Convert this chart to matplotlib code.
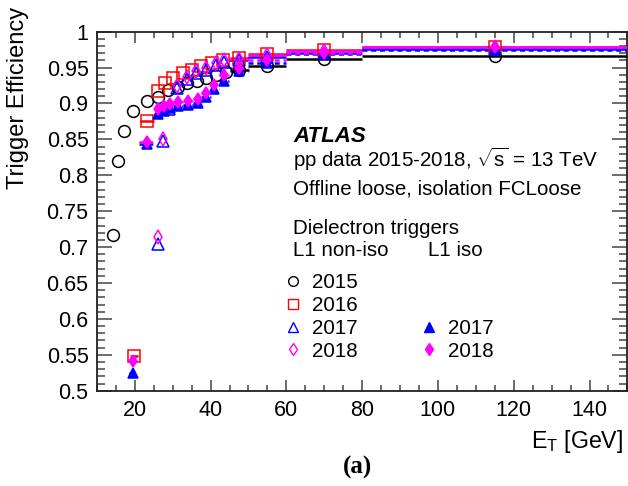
import matplotlib
matplotlib.use("Agg")
import matplotlib.pyplot as plt
from matplotlib.lines import Line2D
from matplotlib.ticker import MultipleLocator, FormatStrFormatter


# ------------------
# data
# ------------------
et_2015 = [14.3, 15.6, 17.1, 19.6, 23.1, 26.2, 28.8, 31.3, 33.9, 36.3, 38.7, 41.3, 44.0, 47.6, 55, 70, 115]
eff_2015 = [0.717, 0.820, 0.862, 0.890, 0.903, 0.909, 0.919, 0.923, 0.929, 0.932, 0.936, 0.940, 0.944, 0.947, 0.952, 0.962, 0.966]
xerr_2015 = [0, 0, 0, 0, 0, 0, 0, 0, 0, 0, 0, 0, 0, 2.5, 5, 10, 35]

et_2016 = [19.75, 23.3, 26.1, 27.9, 30.0, 32.6, 35.2, 37.6, 40.5, 43.4, 47.6, 55, 70, 115]
eff_2016 = [0.549, 0.875, 0.917, 0.929, 0.936, 0.942, 0.947, 0.952, 0.957, 0.961, 0.964, 0.969, 0.974, 0.979]
xerr_2016 = [1.0, 1.9, 0, 0, 0, 0, 0, 0, 0, 0, 2.5, 5, 10, 35]

et_nonis = [26.2, 27.4, 29.0, 31.2, 33.7, 36.2, 38.7, 41.3, 43.6, 47.4, 55, 70, 115]
xerr_nonis = [0, 0, 0, 0, 0, 0, 0, 0, 0, 2.5, 5, 10, 35]
eff_2017_nonis = [0.705, 0.848, 0.892, 0.921, 0.934, 0.942, 0.947, 0.954, 0.958, 0.960, 0.965, 0.970, 0.976]
eff_2018_nonis = [0.714, 0.850, 0.897, 0.924, 0.937, 0.945, 0.950, 0.956, 0.960, 0.962, 0.968, 0.973, 0.978]

et_iso = [19.6, 23.1, 26.1, 27.6, 29.2, 31.4, 34.0, 36.6, 38.8, 41.0, 43.5, 47.5, 55, 70, 115]
xerr_iso = [1.0, 2.0, 1.0, 1.0, 1.0, 1.25, 1.25, 1.25, 1.25, 1.25, 1.25, 2.5, 5, 10, 35]
eff_2017_iso = [0.525, 0.843, 0.886, 0.890, 0.894, 0.896, 0.898, 0.900, 0.909, 0.920, 0.932, 0.945, 0.957, 0.969, 0.975]
eff_2018_iso = [0.541, 0.847, 0.892, 0.896, 0.899, 0.902, 0.904, 0.906, 0.915, 0.926, 0.939, 0.950, 0.960, 0.971, 0.978]


plt.rcParams['font.family'] = ['Liberation Sans', 'DejaVu Sans']
plt.rcParams['mathtext.fontset'] = 'custom'
plt.rcParams['mathtext.rm'] = 'Liberation Sans'
plt.rcParams['mathtext.it'] = 'Liberation Sans:italic'
plt.rcParams['font.size'] = 14.8

fig = plt.figure(figsize=(6.28, 4.86), dpi=100)
ax = fig.add_axes([96.9 / 628, 95.3 / 486, 530.5 / 628, 359.0 / 486])


def draw(x, y, xerr, marker, color, ms, filled, dashed=False):
    face = color if filled else 'none'
    _, _, bars = ax.errorbar(x, y, xerr=xerr, fmt=marker, ms=ms, mfc=face, mec=color,
                             mew=1.1, ecolor=color, elinewidth=1.8, capsize=0, zorder=3)
    if dashed:
        for b in bars:
            b.set_linestyle((0, (2, 1.5)))


#-------------
# PLOT
#-------------
draw(et_2015, eff_2015, xerr_2015, 'o', 'black', 8.5, False)
draw(et_2016, eff_2016, xerr_2016, 's', '#ff0000', 8.5, False)
draw(et_nonis, eff_2017_nonis, xerr_nonis, '^', '#0000ff', 8, False)
draw(et_nonis, eff_2018_nonis, xerr_nonis, 'd', '#ff00ff', 7, False)
draw(et_iso, eff_2017_iso, xerr_iso, '^', '#0000ff', 7.5, True, dashed=True)
draw(et_iso, eff_2018_iso, xerr_iso, 'd', '#ff00ff', 6.5, True, dashed=True)

ax.set_xlim(10, 150)
ax.set_ylim(0.5, 1.0)
ax.xaxis.set_major_locator(MultipleLocator(20))
ax.xaxis.set_minor_locator(MultipleLocator(5))
ax.yaxis.set_major_locator(MultipleLocator(0.05))
ax.yaxis.set_minor_locator(MultipleLocator(0.01))
ax.yaxis.set_major_formatter(FormatStrFormatter('%g'))

ax.tick_params(which='both', direction='in', top=True, right=True, width=1.1, color='#444444',
               labelsize=15.5)
ax.tick_params(axis='y', which='major', length=11)
ax.tick_params(axis='y', which='minor', length=5.5)
ax.tick_params(axis='x', which='major', length=8)
ax.tick_params(axis='x', which='minor', length=4)
ax.tick_params(axis='x', pad=7)
ax.tick_params(axis='y', pad=6)
for s in ax.spines.values():
    s.set_linewidth(1.3)
    s.set_color('#222222')

fig.text(18 / 628, 1 - 7 / 486, 'Trigger Efficiency', rotation=90, ha='center', va='top', fontsize=17)
ax.set_xlabel('E$_\\mathregular{T}$ [GeV]', fontsize=16.7, ha='right', x=1.0 - 4 / 530.5, labelpad=5)

fig.text(358 / 628, 1 - 467 / 486, '(a)', fontfamily='Liberation Serif', fontweight='bold',
         fontsize=18, ha='center', va='center')

tx = (293 - 96.9) / 530.5
ax.text(tx, (390.7 - 136) / 359, 'ATLAS', transform=ax.transAxes, fontweight='bold',
        fontstyle='italic', va='center', fontsize=16)
ax.text(tx, (390.7 - 159) / 359, 'pp data 2015-2018, $\\sqrt{\\mathregular{s}}$ = 13 TeV',
        transform=ax.transAxes, va='center')
ax.text(tx, (390.7 - 189) / 359, 'Offline loose, isolation FCLoose', transform=ax.transAxes, va='center')
ax.text(tx, (390.7 - 228) / 359, 'Dielectron triggers', transform=ax.transAxes, va='center')
ax.text(tx, (390.7 - 251) / 359, 'L1 non-iso', transform=ax.transAxes, va='center')
ax.text((428 - 96.9) / 530.5, (390.7 - 251) / 359, 'L1 iso', transform=ax.transAxes, va='center')

# legend, two columns (first two rows of the iso column empty)
def mk(marker, color, ms, filled):
    return Line2D([], [], ls='none', marker=marker, ms=ms, mec=color,
                  mfc=color if filled else 'none', mew=1.0)

blank = Line2D([], [], ls='none', marker='none')
handles = [mk('o', 'black', 7, False), mk('s', '#ff0000', 7, False),
           mk('^', '#0000ff', 7, False), mk('d', '#ff00ff', 6, False),
           blank, blank, mk('^', '#0000ff', 7, True), mk('d', '#ff00ff', 6, True)]
labels = ['2015', '2016', '2017', '2018', '', '', '2017', '2018']
ax.legend(handles, labels, ncol=2, frameon=False, loc='upper left',
          bbox_to_anchor=((285 - 96.9) / 530.5, (390.7 - 273.5) / 359),
          handlelength=0.8, handletextpad=0.5, columnspacing=3.1,
          labelspacing=0.18, borderaxespad=0, borderpad=0)

fig.savefig('out.png', dpi=100)
